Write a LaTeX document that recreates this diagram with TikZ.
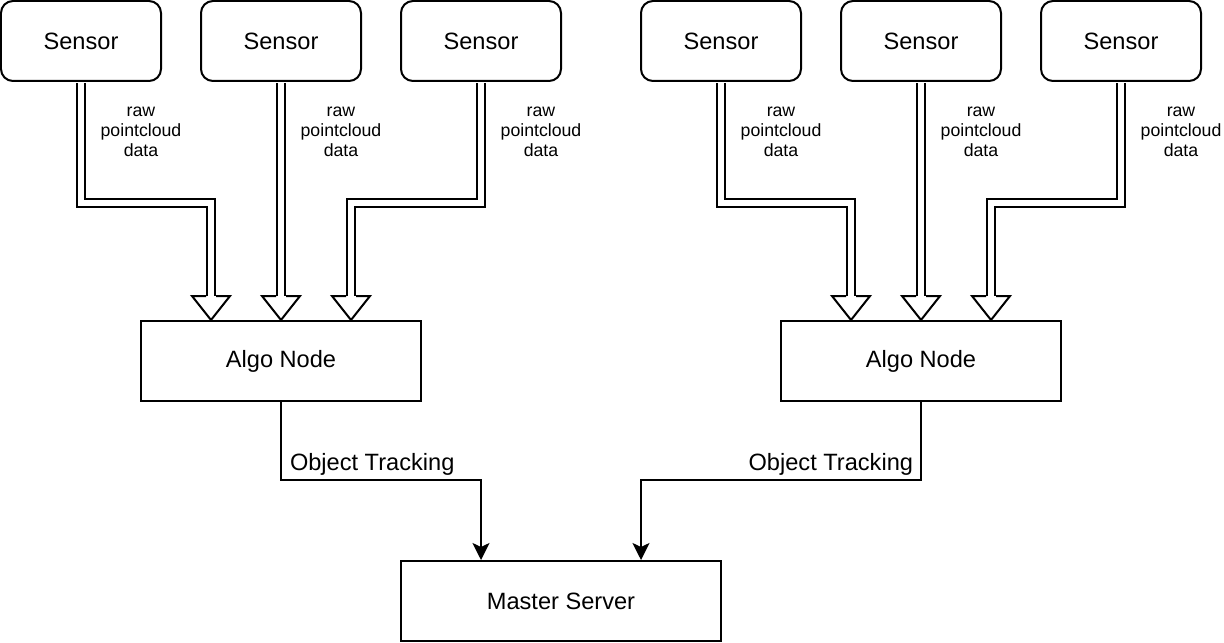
\documentclass[tikz,border=0pt]{standalone}
\usepackage{fontspec}
\setmainfont{Liberation Sans}
\usetikzlibrary{calc,arrows.meta}
\tikzset{
  sensor/.style={draw, line width=1pt, rounded corners=6pt, minimum width=80pt, minimum height=40pt, font=\fontsize{11.8}{14}\selectfont},
  block/.style={draw, line width=1pt, minimum height=40pt, font=\fontsize{11.8}{14}\selectfont},
  pipe/.style={double=white, double distance=3pt, line width=1pt, line join=miter},
  rawlbl/.style={align=center, font=\fontsize{8.85}{10}\selectfont},
  tracklbl/.style={inner sep=0pt, yshift=4.75pt, font=\fontsize{11.8}{14}\selectfont},
}
\newcommand{\hollowhead}[1]{\draw[line width=1pt, line join=miter] ($(#1)+(-5,-24)$) -- ++(-14,0) -- (#1) -- ($(#1)+(19,-24)$) -- ++(-14,0);}
\begin{document}
\begin{tikzpicture}[x=0.5pt, y=-0.5pt]
\useasboundingbox (-1,-1) rectangle (1223,641);
\node[sensor] (s1) at (80,40) {Sensor};
\node[sensor] (s2) at (280,40) {Sensor};
\node[sensor] (s3) at (480,40) {Sensor};
\node[sensor] (s4) at (720,40) {Sensor};
\node[sensor] (s5) at (920,40) {Sensor};
\node[sensor] (s6) at (1120,40) {Sensor};
\node[block, minimum width=140pt] (a1) at (280,360) {Algo Node};
\node[block, minimum width=140pt] (a2) at (920,360) {Algo Node};
\node[block, minimum width=160pt] (m) at (560,600) {Master Server};
\node[rawlbl] (l1) at (140,131) {raw\\pointcloud\\data};
\node[rawlbl] (l2) at (340,131) {raw\\pointcloud\\data};
\node[rawlbl] (l3) at (540,131) {raw\\pointcloud\\data};
\node[rawlbl] (l4) at (780,131) {raw\\pointcloud\\data};
\node[rawlbl] (l5) at (980,131) {raw\\pointcloud\\data};
\node[rawlbl] (l6) at (1180,131) {raw\\pointcloud\\data};
% tips of the hollow arrows
\coordinate (t1) at ($(a1.north)+(-70,0)$);
\coordinate (t2) at (a1.north);
\coordinate (t3) at ($(a1.north)+(70,0)$);
\coordinate (t4) at ($(a2.north)+(-70,0)$);
\coordinate (t5) at (a2.north);
\coordinate (t6) at ($(a2.north)+(70,0)$);
\draw[pipe] ($(s1.south)+(0,1)$) -- ++(0,120) -| ($(t1)+(0,-24)$);
\draw[pipe] ($(s2.south)+(0,1)$) -- ($(t2)+(0,-24)$);
\draw[pipe] ($(s3.south)+(0,1)$) -- ++(0,120) -| ($(t3)+(0,-24)$);
\draw[pipe] ($(s4.south)+(0,1)$) -- ++(0,120) -| ($(t4)+(0,-24)$);
\draw[pipe] ($(s5.south)+(0,1)$) -- ($(t5)+(0,-24)$);
\draw[pipe] ($(s6.south)+(0,1)$) -- ++(0,120) -| ($(t6)+(0,-24)$);
\hollowhead{t1} \hollowhead{t2} \hollowhead{t3}
\hollowhead{t4} \hollowhead{t5} \hollowhead{t6}
% object tracking
\coordinate (ml) at ($(m.north)+(-80,0)$);
\coordinate (mr) at ($(m.north)+(80,0)$);
\draw[line width=1pt, -{Stealth[length=8.5pt,width=8.5pt,inset=2pt]}] (a1.south) |- node[tracklbl, anchor=base west, xshift=4pt]{Object Tracking} ($(ml)+(0,-80)$) -- (ml);
\draw[line width=1pt, -{Stealth[length=8.5pt,width=8.5pt,inset=2pt]}] (a2.south) |- node[tracklbl, anchor=base east, xshift=-3.5pt]{Object Tracking} ($(mr)+(0,-80)$) -- (mr);
\end{tikzpicture}
\end{document}
